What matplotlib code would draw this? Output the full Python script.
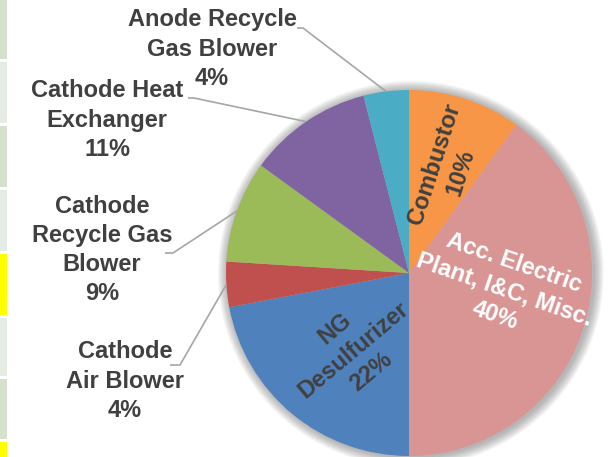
import numpy as np
import matplotlib
matplotlib.use("Agg")
import matplotlib.pyplot as plt
from matplotlib.patches import Circle, Rectangle

# Cost breakdown, clockwise from 12 o'clock
categories = [
    "Combustor",
    "Acc. Electric\nPlant, I&C, Misc.",
    "NG\nDesulfurizer",
    "Cathode\nAir Blower",
    "Cathode\nRecycle Gas\nBlower",
    "Cathode Heat\nExchanger",
    "Anode Recycle\nGas Blower",
]
shares = [10, 40, 22, 4, 9, 11, 4]
colors = ["#f79646", "#d99594", "#4f81bd", "#c0504d", "#9bbb59", "#8064a2", "#4bacc6"]

W, H = 608, 457
CX, CY, R = 409, 273, 183          # pie centre / radius in pixels

fig = plt.figure(figsize=(W / 100, H / 100), dpi=100)
ax = fig.add_axes([0, 0, 1, 1])
ax.axis("off")


def px(x, y):
    return ((x - CX) / R, (CY - y) / R)


# spreadsheet cells peeking in on the left edge
cells = [(0, 59, "#d5e1cd"), (62, 123, "#e5ece3"), (126, 187, "#d5e1cd"),
         (190, 251, "#e5ece3"), (254, 315, "#ffff00"), (318, 376, "#e5ece3"),
         (379, 439, "#d5e1cd"), (442, 457, "#ffff00")]
for top, bot, c in cells:
    fig.add_artist(Rectangle((0, 1 - bot / H), 7 / W, (bot - top) / H,
                             transform=fig.transFigure, color=c, lw=0))

# soft shadow around the pie
for i in range(14):
    ax.add_patch(Circle((0.01, -0.005), 1 + 0.055 * (14 - i) / 14,
                        color="#606060", alpha=0.04, lw=0, zorder=1))

wedges, _ = ax.pie(shares, colors=colors, startangle=90, counterclock=False,
                   radius=1, center=(0, 0), wedgeprops=dict(lw=0, zorder=2))
ax.set_xlim(-CX / R, (W - CX) / R)
ax.set_ylim(-(H - CY) / R, CY / R)
ax.set_aspect("auto")

cum = np.cumsum([0] + shares)
mid = [(cum[i] + cum[i + 1]) / 2 / 100 * 360 for i in range(len(shares))]
labels = [f"{c}\n{s}%" for c, s in zip(categories, shares)]

font = dict(family="Liberation Sans", weight="bold", size=17)
dark = "#404040"

# labels drawn inside their wedges: (index, radius, angle shift, rotation, colour)
inside = [(0, 0.61, 2, 72, dark), (1, 0.53, -8.4, -19, "white"), (2, 0.52, -3.6, 40, dark)]
for i, r, dth, rot, col in inside:
    th = np.radians(mid[i] + dth)
    ax.text(r * np.sin(th), r * np.cos(th), labels[i], ha="center", va="center",
            rotation=rot, rotation_mode="anchor", color=col, linespacing=1.28,
            zorder=5, **font)

# labels outside with leader lines: (index, text centre, elbow start, elbow end)
outside = [
    (6, (212, 49), (297, 28), (303, 28)),
    (5, (107, 120), (188, 98), (194, 98)),
    (4, (102, 250), (165, 253), (173, 253)),
    (3, (125, 381), (170, 365), (180, 365)),
]
for i, tc, p0, p1 in outside:
    ax.text(*px(*tc), labels[i], ha="center", va="center", color=dark,
            linespacing=1.34, zorder=5, **font)
    th = np.radians(mid[i])
    edge = (np.sin(th), np.cos(th))
    a, b = px(*p0), px(*p1)
    ax.plot([a[0], b[0], edge[0]], [a[1], b[1], edge[1]], color="#a6a6a6",
            lw=1.2, zorder=3, solid_capstyle="butt")

fig.savefig("out.png", dpi=100)
